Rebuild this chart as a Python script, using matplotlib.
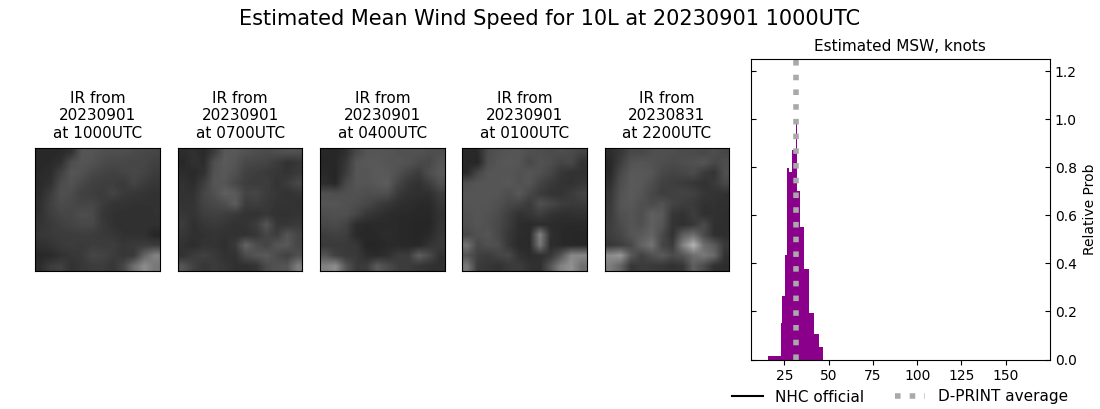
import numpy as np
import matplotlib
matplotlib.use('Agg')
import matplotlib.pyplot as plt

panel_labels = ['IR from\n20230901\nat 1000UTC', 'IR from\n20230901\nat 0700UTC', 'IR from\n20230901\nat 0400UTC',
                'IR from\n20230901\nat 0100UTC', 'IR from\n20230831\nat 2200UTC']

# coarse brightness
ir_1000 = [[40, 40, 42, 50, 85, 85, 80, 78, 78, 75, 72, 70],
           [40, 42, 48, 78, 85, 82, 75, 72, 72, 70, 70, 65],
           [42, 45, 65, 85, 82, 72, 68, 65, 68, 72, 68, 60],
           [42, 50, 75, 82, 72, 65, 62, 62, 58, 68, 60, 55],
           [45, 60, 80, 76, 65, 62, 60, 68, 58, 55, 52, 50],
           [48, 65, 76, 72, 68, 70, 60, 52, 52, 50, 50, 50],
           [50, 62, 70, 70, 78, 75, 55, 50, 48, 48, 48, 50],
           [52, 58, 64, 68, 72, 72, 58, 50, 48, 48, 50, 48],
           [55, 58, 60, 60, 62, 60, 58, 55, 50, 50, 48, 38],
           [48, 52, 58, 60, 58, 62, 60, 62, 55, 58, 60, 60],
           [40, 42, 50, 55, 58, 70, 68, 60, 55, 58, 100, 130],
           [45, 60, 65, 50, 55, 60, 60, 55, 70, 110, 140, 120]]
ir_0700 = [[45, 48, 42, 60, 88, 88, 82, 78, 75, 78, 82, 80],
           [40, 50, 45, 80, 90, 85, 72, 70, 68, 60, 50, 55],
           [45, 42, 50, 82, 88, 80, 65, 62, 58, 55, 52, 58],
           [50, 45, 62, 85, 85, 72, 62, 60, 62, 52, 60, 72],
           [50, 50, 70, 80, 95, 90, 68, 70, 60, 55, 50, 55],
           [52, 52, 68, 72, 78, 92, 60, 62, 58, 52, 52, 50],
           [55, 52, 62, 65, 62, 58, 52, 50, 55, 50, 50, 52],
           [60, 48, 55, 58, 55, 50, 52, 60, 85, 55, 55, 58],
           [55, 48, 50, 52, 50, 50, 50, 55, 70, 62, 85, 70],
           [50, 45, 52, 52, 48, 58, 100, 78, 68, 85, 88, 70],
           [50, 60, 65, 58, 50, 50, 75, 85, 90, 75, 65, 80],
           [85, 65, 55, 60, 55, 48, 48, 52, 75, 82, 85, 125]]
ir_0400 = [[40, 38, 48, 72, 85, 85, 85, 82, 82, 82, 78, 78],
           [38, 40, 55, 85, 88, 88, 85, 85, 82, 75, 72, 85],
           [42, 38, 60, 85, 85, 90, 88, 80, 68, 60, 78, 88],
           [45, 40, 72, 85, 85, 88, 92, 70, 55, 50, 62, 80],
           [80, 78, 80, 82, 78, 80, 78, 58, 50, 48, 48, 62],
           [85, 85, 82, 78, 72, 62, 55, 48, 45, 42, 42, 55],
           [78, 80, 80, 70, 55, 50, 45, 42, 42, 40, 40, 50],
           [72, 75, 68, 45, 42, 42, 42, 42, 40, 38, 38, 52],
           [62, 65, 62, 42, 40, 42, 45, 42, 40, 38, 42, 55],
           [58, 58, 58, 55, 38, 38, 42, 42, 40, 40, 52, 58],
           [85, 65, 58, 58, 45, 42, 48, 60, 60, 95, 75, 50],
           [130, 140, 85, 58, 60, 90, 75, 62, 60, 55, 50, 48]]
ir_0100 = [[40, 42, 75, 82, 85, 85, 80, 78, 75, 78, 75, 68],
           [40, 38, 78, 85, 88, 85, 72, 82, 78, 68, 72, 52],
           [42, 70, 85, 85, 85, 82, 85, 80, 70, 55, 50, 50],
           [80, 85, 85, 85, 88, 82, 85, 68, 58, 52, 50, 55],
           [85, 85, 85, 85, 78, 88, 72, 60, 52, 52, 60, 68],
           [85, 85, 85, 80, 72, 68, 58, 80, 72, 62, 58, 60],
           [82, 85, 82, 75, 62, 50, 55, 62, 52, 48, 48, 50],
           [80, 85, 80, 72, 60, 45, 42, 45, 45, 42, 42, 42],
           [72, 80, 85, 72, 55, 45, 42, 130, 48, 42, 40, 38],
           [115, 72, 80, 78, 55, 42, 42, 120, 45, 42, 40, 40],
           [85, 65, 60, 68, 72, 50, 45, 48, 55, 85, 135, 135],
           [120, 60, 55, 50, 58, 60, 50, 48, 85, 130, 145, 110]]
ir_2200 = [[45, 55, 72, 72, 78, 80, 78, 75, 75, 72, 78, 70],
           [40, 62, 82, 85, 82, 78, 75, 78, 80, 85, 72, 78],
           [42, 72, 88, 88, 85, 72, 68, 70, 75, 60, 52, 80],
           [48, 78, 90, 88, 78, 65, 62, 60, 55, 50, 58, 72],
           [55, 82, 90, 85, 72, 62, 65, 68, 65, 55, 52, 50],
           [58, 85, 88, 80, 75, 82, 68, 62, 58, 50, 50, 48],
           [60, 80, 85, 78, 95, 90, 55, 50, 62, 48, 50, 46],
           [62, 75, 85, 80, 95, 85, 52, 48, 55, 75, 48, 46],
           [62, 70, 85, 90, 100, 75, 50, 95, 110, 75, 48, 46],
           [55, 62, 72, 100, 115, 70, 60, 130, 180, 110, 90, 58],
           [140, 150, 90, 65, 80, 90, 75, 85, 110, 120, 105, 50],
           [125, 100, 55, 60, 58, 55, 50, 55, 95, 75, 48, 45]]
ir_panels = [ir_1000, ir_0700, ir_0400, ir_0100, ir_2200]

# histogram bins of the wind speed estimate
msw_edges = [15.6, 22.9, 23.5, 25.2, 26.3, 27.4, 29.1, 29.6, 31.4, 31.9, 33.6, 35.9, 38.7, 41.5, 44.3, 46.6]
msw_probs = [0.014, 0.15, 0.264, 0.435, 0.797, 0.78, 1.0, 0.87, 0.99, 0.70, 0.55, 0.376, 0.193, 0.105, 0.05]
dprint_x = [31.4, 31.4]
dprint_y = [0, 1.25]
nhc_x = []
nhc_y = []
x_ticks = [25, 50, 75, 100, 125, 150]
y_ticks = [0.0, 0.2, 0.4, 0.6, 0.8, 1.0, 1.2]

W, H = 1100, 409
panel_x = [(35.0, 160.0), (178.0, 302.5), (320.0, 445.0), (462.3, 587.0), (604.7, 729.0)]

fig = plt.figure(figsize=(11, 4.09), dpi=100)
fig.suptitle('Estimated Mean Wind Speed for 10L at 20230901 1000UTC', fontsize=15, x=0.5, y=0.978)

for (x0, x1), grid, lab in zip(panel_x, ir_panels, panel_labels):
    ax = fig.add_axes([x0 / W, 1 - 271 / H, (x1 - x0) / W, 123.5 / H])
    ax.imshow(np.array(grid), cmap='gray', vmin=0, vmax=255, interpolation='bilinear', aspect='auto')
    ax.set_xticks([])
    ax.set_yticks([])
    ax.set_title(lab, fontsize=11, pad=7)

ax = fig.add_axes([750.7 / W, 1 - 359.5 / H, 299.3 / W, 300.5 / H])
ax.stairs(msw_probs, msw_edges, fill=True, color='darkmagenta')
ax.plot(nhc_x, nhc_y, color='k', label='NHC official')
ax.plot(dprint_x, dprint_y, ':', color='darkgray', lw=4, label='D-PRINT average')
ax.set_xlim(6, 175)
ax.set_ylim(0, 1.25)
ax.set_xticks(x_ticks)
ax.set_yticks(y_ticks)
ax.tick_params(labelsize=10)
ax.yaxis.tick_right()
ax.tick_params(axis='y', left=True, right=True, direction='in')
ax.yaxis.set_label_position('right')
ax.set_ylabel('Relative Prob', fontsize=10, labelpad=4.5)
ax.set_title('Estimated MSW, knots', fontsize=11, pad=6)
fig.legend(*ax.get_legend_handles_labels(), loc='center', bbox_to_anchor=(900 / W, 1 - 397 / H), ncol=2,
           frameon=False, fontsize=11, columnspacing=2.0)

fig.savefig('out.png', dpi=100)
